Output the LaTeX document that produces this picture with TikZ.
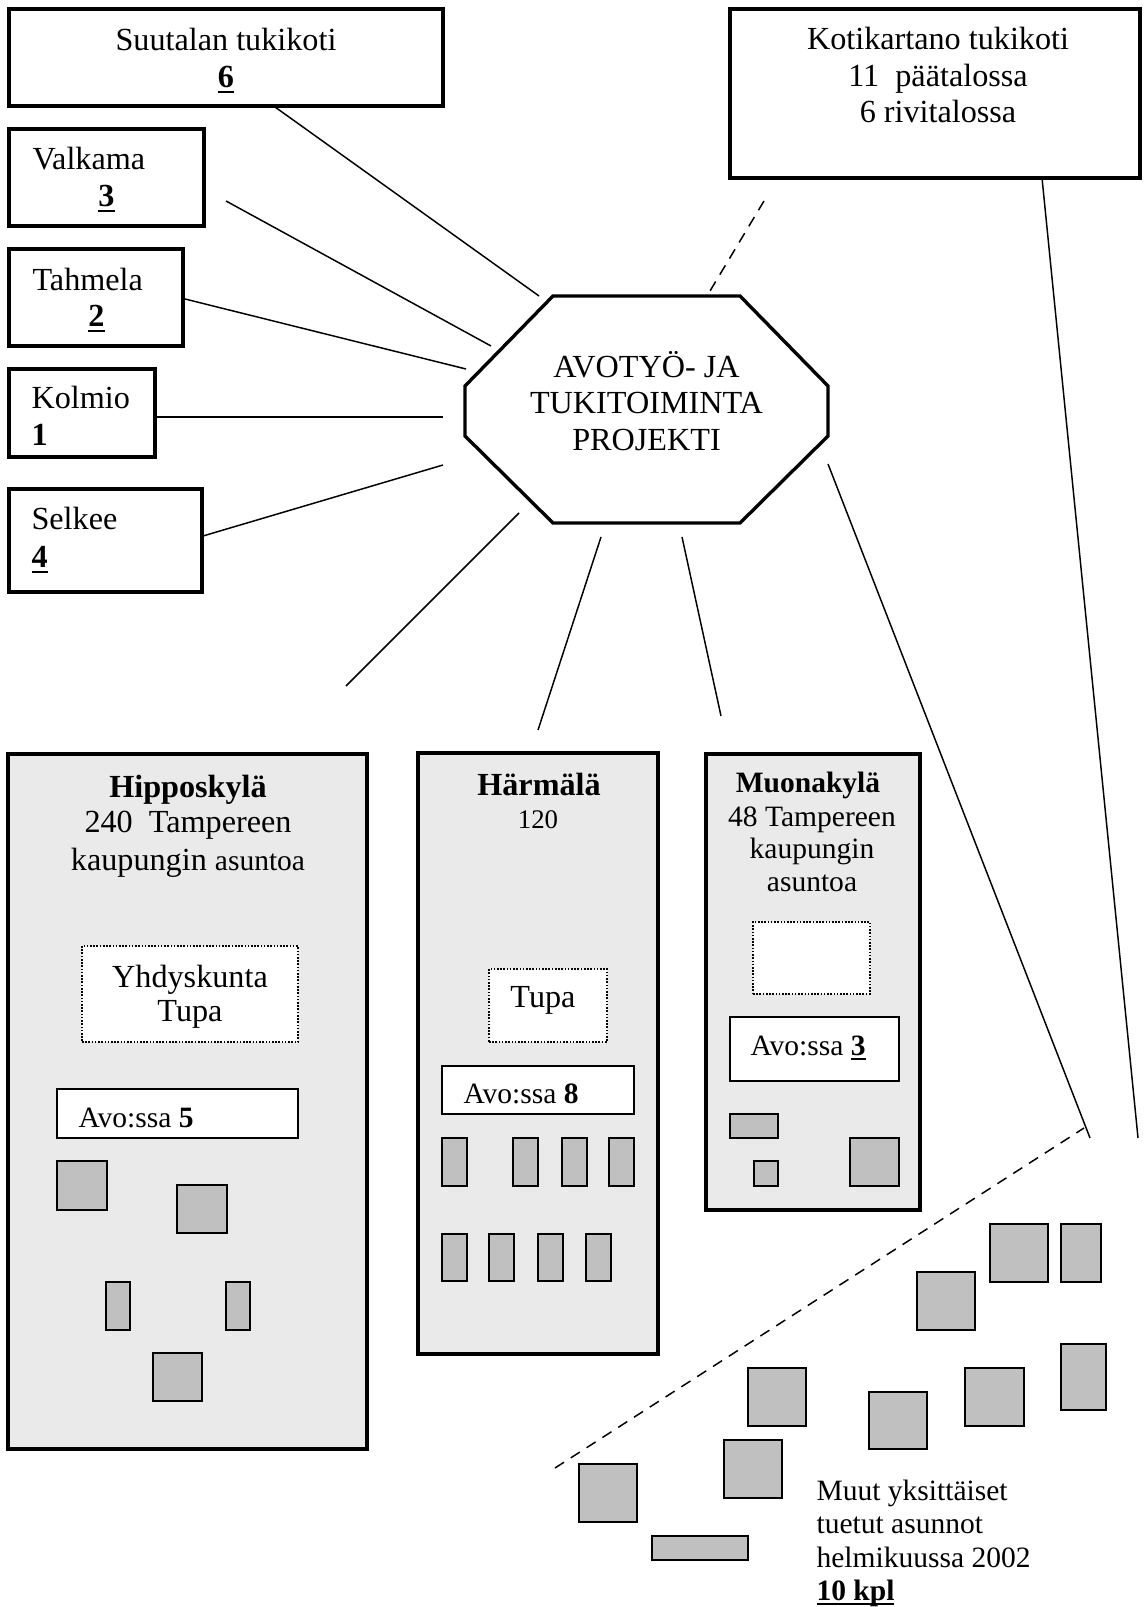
\documentclass[tikz,border=0pt]{standalone}
\usepackage{fontspec}
\setmainfont{Liberation Serif}
\def\pxu{0.3727pt}
\definecolor{areafill}{HTML}{EAEAEA}
\definecolor{housefill}{HTML}{C0C0C0}
\newcommand\myul[1]{{\setbox0\hbox{#1}\rlap{\rule[-2pt]{\wd0}{0.9pt}}\box0}}
\tikzset{
 heavy/.style={draw=black, fill=white, line width=1.25pt},
 area/.style={draw=black, line width=1.25pt, fill=areafill},
 avobox/.style={draw=black, fill=white, line width=0.65pt},
 dotbox/.style={draw=black, fill=white, line width=0.6pt, dash pattern=on 0.6pt off 0.6pt},
 house/.style={draw=black, fill=housefill, line width=0.7pt},
 conn/.style={draw=black, line width=0.55pt},
 dconn/.style={conn, dash pattern=on 4pt off 3pt},
 t12/.style={inner sep=0pt, font=\fontsize{12}{14}\selectfont},
 t11/.style={inner sep=0pt, font=\fontsize{11}{13}\selectfont},
 t10/.style={inner sep=0pt, font=\fontsize{10}{12}\selectfont},
}
\newcommand\bx[6]{\node[#1, anchor=north west, inner sep=0pt, outer sep=0pt, minimum width={(#5-#3)*\pxu}, minimum height={(#6-#4)*\pxu}] (#2) at (#3,#4) {};}
\begin{document}
\begin{tikzpicture}[x=0.3727pt, y=-0.3727pt]
\useasboundingbox (0,0) rectangle (1146,1607);
\fill[white] (0,0) rectangle (1146,1607);

% connector end points
\coordinate (s1) at (275,107);  \coordinate (s2) at (539,296);
\coordinate (v1) at (226,201);  \coordinate (v2) at (491,346);
\coordinate (t1) at (177,297);  \coordinate (t2) at (466,369);
\coordinate (k1) at (156,417);  \coordinate (k2) at (443,417);
\coordinate (e1) at (203,536);  \coordinate (e2) at (443,465);
\coordinate (h1) at (519,513);  \coordinate (h2) at (346,686);
\coordinate (a1) at (601,537);  \coordinate (a2) at (538,730);
\coordinate (m1) at (682,537);  \coordinate (m2) at (721,716);
\coordinate (r1) at (828,464);  \coordinate (r2) at (1090,1138);
\coordinate (q1) at (1042,178); \coordinate (q2) at (1138,1138);
\coordinate (d1) at (764,201);  \coordinate (d2) at (707,296);
\coordinate (w1) at (555,1468); \coordinate (w2) at (1084,1128);

\draw[conn] (s1) -- (s2);
\draw[conn] (v1) -- (v2);
\draw[conn] (t1) -- (t2);
\draw[conn] (k1) -- (k2);
\draw[conn] (e1) -- (e2);
\draw[conn] (h1) -- (h2);
\draw[conn] (a1) -- (a2);
\draw[conn] (m1) -- (m2);
\draw[conn] (r1) -- (r2);
\draw[conn] (q1) -- (q2);
\draw[dconn] (d1) -- (d2);
\draw[dconn] (w1) -- (w2);

% top-left boxes
\bx{heavy}{suut}{9}{9}{443}{106}
\bx{heavy}{valk}{9}{129}{204}{226}
\bx{heavy}{tahm}{9}{249}{183}{346}
\bx{heavy}{kolm}{9}{369}{155}{457}
\bx{heavy}{selk}{9}{489}{202}{592}
\bx{heavy}{koti}{730}{9}{1140}{178}

\node[t12, anchor=base] (suutA) at (226,51) {Suutalan tukikoti};
\node[t12, anchor=base] (suutB) at (226,88) {\myul{\textbf{6}}};
\node[t12, anchor=base west] (valkA) at (32,170) {Valkama};
\node[t12, anchor=base] (valkB) at (106.5,207) {\myul{\textbf{3}}};
\node[t12, anchor=base west] (tahmA) at (32,291) {Tahmela};
\node[t12, anchor=base] (tahmB) at (96.5,327) {\myul{\textbf{2}}};
\node[t12, anchor=base west] (kolmA) at (31,409) {Kolmio};
\node[t12, anchor=base west] (kolmB) at (31,446) {\textbf{1}};
\node[t12, anchor=base west] (selkA) at (31,530) {Selkee};
\node[t12, anchor=base west] (selkB) at (31,568) {\myul{\textbf{4}}};

\node[t12, anchor=base] (kotiA) at (938,50) {Kotikartano tukikoti};
\node[t12, anchor=base] (kotiB) at (938,87) {11~~päätalossa};
\node[t12, anchor=base] (kotiC) at (938,123) {6 rivitalossa};

% octagon
\draw[heavy] (553,296) -- (740,296) -- (828,386) -- (828,436) -- (740,523)
  -- (553,523) -- (465,436) -- (465,386) -- cycle;
\node[t12, anchor=base] (octA) at (646.5,378) {AVOTYÖ- JA};
\node[t12, anchor=base] (octB) at (646.5,414) {TUKITOIMINTA};
\node[t12, anchor=base] (octC) at (646.5,451) {PROJEKTI};

% Hipposkyla
\bx{area}{hipp}{8}{754}{367}{1449}
\node[t12, anchor=base] (hippA) at (188,797) {\textbf{Hipposkylä}};
\node[t12, anchor=base] (hippB) at (188,832) {240~~Tampereen};
\node[t12, anchor=base] (hippC) at (188,870) {kaupungin {\fontsize{11}{13}\selectfont asuntoa}};
\bx{dotbox}{yhd}{82}{946}{298}{1042}
\node[t12, anchor=base] (yhdA) at (190,987) {Yhdyskunta};
\node[t12, anchor=base] (yhdB) at (190,1021) {Tupa};
\bx{avobox}{avo5}{57}{1089}{298}{1138}
\node[t11, anchor=base west] (avo5t) at (78,1127) {Avo:ssa \textbf{5}};
\bx{house}{hh1}{57}{1161}{107}{1210}
\bx{house}{hh2}{177}{1185}{227}{1233}
\bx{house}{hh3}{106}{1282}{130}{1330}
\bx{house}{hh4}{226}{1282}{250}{1330}
\bx{house}{hh5}{153}{1353}{202}{1401}

% Harmala
\bx{area}{harm}{418}{753}{658}{1354}
\node[t12, anchor=base] (harmA) at (539,795) {\textbf{Härmälä}};
\node[t10, anchor=base] (harmB) at (538,828) {120};
\bx{dotbox}{tupa}{489}{969}{607}{1042}
\node[t12, anchor=base] (tupaT) at (543,1007) {Tupa};
\bx{avobox}{avo8}{442}{1066}{634}{1114}
\node[t11, anchor=base west] (avo8t) at (463,1103) {Avo:ssa \textbf{8}};
\bx{house}{ha1}{442}{1138}{467}{1186}
\bx{house}{ha2}{513}{1138}{538}{1186}
\bx{house}{ha3}{562}{1138}{587}{1186}
\bx{house}{ha4}{609}{1138}{634}{1186}
\bx{house}{ha5}{442}{1234}{467}{1281}
\bx{house}{ha6}{489}{1234}{514}{1281}
\bx{house}{ha7}{538}{1234}{563}{1281}
\bx{house}{ha8}{586}{1234}{611}{1281}

% Muonakyla
\bx{area}{muon}{706}{754}{920}{1210}
\node[t11, anchor=base] (muonA) at (808,792) {\textbf{Muonakylä}};
\node[t11, anchor=base] (muonB) at (812,826) {48 Tampereen};
\node[t11, anchor=base] (muonC) at (812,858) {kaupungin};
\node[t11, anchor=base] (muonD) at (812,891) {asuntoa};
\bx{dotbox}{mdot}{753}{922}{870}{994}
\bx{avobox}{avo3}{730}{1017}{899}{1081}
\node[t11, anchor=base west] (avo3t) at (750,1055) {Avo:ssa \myul{\textbf{3}}};
\bx{house}{hm1}{730}{1114}{778}{1138}
\bx{house}{hm2}{754}{1161}{778}{1186}
\bx{house}{hm3}{850}{1138}{899}{1186}

% other single dwellings
\bx{house}{o1}{990}{1224}{1048}{1282}
\bx{house}{o2}{1061}{1224}{1101}{1282}
\bx{house}{o3}{917}{1272}{975}{1330}
\bx{house}{o4}{1061}{1344}{1106}{1410}
\bx{house}{o5}{748}{1368}{806}{1426}
\bx{house}{o6}{869}{1392}{927}{1449}
\bx{house}{o7}{965}{1368}{1024}{1426}
\bx{house}{o8}{724}{1440}{782}{1498}
\bx{house}{o9}{579}{1464}{637}{1522}
\bx{house}{o10}{652}{1536}{748}{1560}

\node[t11, anchor=base west] (muutA) at (816,1500) {Muut yksittäiset};
\node[t11, anchor=base west] (muutB) at (816,1533) {tuetut asunnot};
\node[t11, anchor=base west] (muutC) at (816,1567) {helmikuussa 2002};
\node[t11, anchor=base west] (muutD) at (816,1600) {\myul{\textbf{10 kpl}}};
\end{tikzpicture}
\end{document}
